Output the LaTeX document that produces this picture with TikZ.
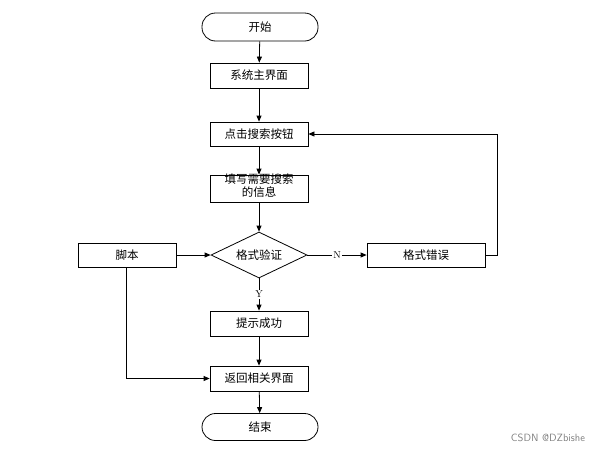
\documentclass[tikz,border=0pt]{standalone}
\usepackage{fontspec}
\newfontfamily\cjk{Noto Sans CJK SC}
\usetikzlibrary{shapes.geometric,arrows.meta}
\begin{document}
\begin{tikzpicture}[x=1pt,y=-1pt,
  every node/.style={font=\cjk\fontsize{11.5}{13}\selectfont},
  procbox/.style={draw,line width=0.8pt,minimum width=98pt,minimum height=25pt,inner sep=0pt,fill=white},
  termbox/.style={draw,line width=0.8pt,rounded corners=13.5pt,minimum width=116pt,minimum height=28pt,inner sep=0pt},
  decbox/.style={draw,line width=0.8pt,diamond,minimum width=96pt,minimum height=46pt,inner sep=0pt,aspect=2.087},
  arr/.style={line width=0.8pt,-{Triangle[length=6pt,width=5pt]}},
  lbl/.style={font=\fontsize{10}{11}\selectfont\rmfamily,fill=white,inner sep=1pt}]
\useasboundingbox (0,0) rectangle (612,453);
\node[termbox] (start) at (260,27) {开始};
\node[procbox] (main) at (259,75.5) {系统主界面};
\node[procbox,minimum height=24pt] (click) at (259,134) {点击搜索按钮};
\node[procbox,minimum height=27pt] (fill) at (259,188.5) {};
\node[align=center,font=\cjk\fontsize{11.5}{13}\selectfont] (filltxt) at (259,186) {填写需要搜索\\的信息};
\node[decbox] (check) at (259,255) {格式验证};
\node[procbox,minimum height=24pt] (script) at (127,255) {脚本};
\node[procbox,minimum width=118pt,minimum height=24pt] (err) at (426,255) {格式错误};
\node[procbox] (ok) at (259,323.5) {提示成功};
\node[procbox] (back) at (259,378.5) {返回相关界面};
\node[termbox,minimum height=27pt] (end) at (260,427) {结束};
\coordinate (loopr) at (497,255);
\coordinate (loopt) at (497,134);
\coordinate (sbot) at (126,378.5);
\draw[arr] (start) -- (main);
\draw[arr] (main) -- (click);
\draw[arr] (click) -- (fill.north);
\draw[arr] (fill) -- (check);
\draw[arr] (script) -- (check);
\draw[arr] (check) -- node[lbl]{N} (err);
\draw[arr] (check) -- node[lbl,pos=0.5]{Y} (ok);
\draw[arr] (err.east) -- (loopr) -- (loopt) -- (click.east);
\draw[arr] (ok) -- (back);
\draw[arr] (script.south -| sbot) -- (sbot) -- (back.west);
\draw[arr] (back) -- (end);
\node[font=\fontsize{10.5}{12}\selectfont\sffamily,text=gray] (wm) at (548,438) {CSDN @DZbishe};
\end{tikzpicture}
\end{document}
